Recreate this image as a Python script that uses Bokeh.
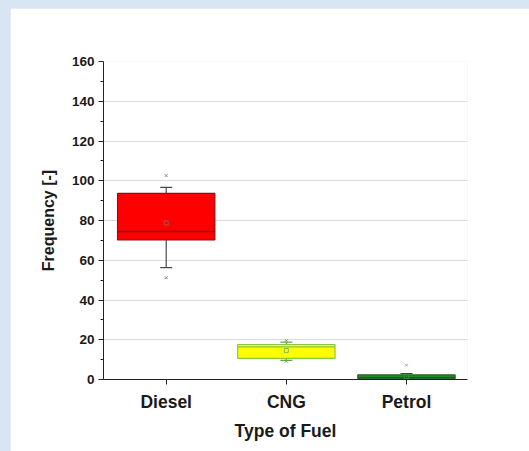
from bokeh.plotting import figure
from bokeh.layouts import column
from bokeh.models import Range1d, FixedTicker
from bokeh.embed import file_html
from bokeh.resources import INLINE

# ---- data ----
categories = ["Diesel", "CNG", "Petrol"]
q1 = [70.2, 10.6, 0.5]
q3 = [93.6, 17.6, 2.3]
medians = [74.5, 16.4, 1.0]
means = [78.8, 14.6, 1.5]
whisker_low = [56.3, 9.6, 0.2]
whisker_high = [96.7, 18.8, 3.0]
outlier_cat = ["Diesel", "Diesel", "CNG", "CNG", "Petrol"]
outlier_val = [102.6, 51.2, 19.6, 9.2, 7.2]
y_ticks = [0, 20, 40, 60, 80, 100, 120, 140, 160]
y_minor = [10, 30, 50, 70, 90, 110, 130, 150]

# ---- styles ----
fills = ["#ff0000", "#ffff00", "#2b8f2b"]
edges = ["#8b1010", "#8cc63f", "#1c661c"]
wcols = ["#4a4a4a", "#5faa48", "#1c661c"]
mean_cols = ["#b05050", "#7fbf5f", "#3a8a3a"]
out_cols = {"Diesel": "#8a8a8a", "CNG": "#5faa48", "Petrol": "#8ab88a"}
FONT = "Liberation Sans"
TXT = "#1a1a1a"

xs = [i + 1 for i in range(len(categories))]
pos = {c: i + 1 for i, c in enumerate(categories)}
bw = 0.81
cw = 0.1

fig = figure(width=519, height=443, output_backend="svg", toolbar_location=None,
             x_range=Range1d(0.478, 3.508), y_range=Range1d(0, 160),
             min_border_left=93, min_border_right=62, min_border_top=53,
             min_border_bottom=72, margin=(8, 0, 0, 10))
fig.outline_line_color = None
fig.background_fill_color = "white"
fig.border_fill_color = "white"

# whiskers
fig.segment(x0=xs, x1=xs, y0=whisker_low, y1=q1, line_color=wcols, line_width=1.2)
fig.segment(x0=xs, x1=xs, y0=q3, y1=whisker_high, line_color=wcols, line_width=1.2)
fig.segment(x0=[x - cw / 2 for x in xs], x1=[x + cw / 2 for x in xs],
            y0=whisker_low, y1=whisker_low, line_color=wcols, line_width=1.2)
fig.segment(x0=[x - cw / 2 for x in xs], x1=[x + cw / 2 for x in xs],
            y0=whisker_high, y1=whisker_high, line_color=wcols, line_width=1.2)

# boxes
fig.vbar(x=xs, width=bw, bottom=q1, top=q3, fill_color=fills, line_color=edges, line_width=1.2)
# medians
fig.segment(x0=[x - bw / 2 for x in xs], x1=[x + bw / 2 for x in xs],
            y0=medians, y1=medians, line_color=edges, line_width=1.4)
# means
fig.scatter(x=xs, y=means, marker="square", size=4, fill_color=None,
            line_color=mean_cols, line_width=1)
# outliers
fig.scatter(x=[pos[c] for c in outlier_cat], y=outlier_val, marker="x", size=4,
            line_color=[out_cols[c] for c in outlier_cat], line_width=1)

# grid
fig.xgrid.visible = False
fig.ygrid.ticker = FixedTicker(ticks=y_ticks[1:-1])
fig.ygrid.grid_line_color = "#dcdcdc"
fig.ygrid.grid_line_width = 1

# axes
ya = fig.yaxis[0]
ya.ticker = FixedTicker(ticks=y_ticks, minor_ticks=y_minor)
ya.axis_label = "Frequency [-]"
ya.major_tick_out = 5
ya.major_tick_in = 0
ya.minor_tick_out = 3
ya.minor_tick_in = 0
ya.major_label_standoff = 4
ya.axis_label_standoff = 12
ya.major_label_text_font_size = "13.5px"
ya.axis_label_text_font_size = "16px"

xa = fig.xaxis[0]
xa.ticker = FixedTicker(ticks=xs)
xa.major_label_overrides = {x: c for x, c in zip(xs, categories)}
xa.axis_label = "Type of Fuel"
xa.major_tick_out = 5
xa.major_tick_in = 0
xa.minor_tick_out = 0
xa.minor_tick_in = 0
xa.major_label_standoff = 7
xa.axis_label_standoff = 6
xa.major_label_text_font_size = "17.5px"
xa.axis_label_text_font_size = "17.5px"

for ax in (xa, ya):
    ax.axis_line_color = "#222222"
    ax.major_tick_line_color = "#222222"
    ax.minor_tick_line_color = "#222222"
    ax.major_label_text_font = FONT
    ax.major_label_text_font_style = "bold"
    ax.major_label_text_color = TXT
    ax.axis_label_text_font = FONT
    ax.axis_label_text_font_style = "bold"
    ax.axis_label_text_color = TXT

p = column(fig, styles={"background-color": "#d8e5f2"})

open("out.html", "w").write(file_html(p, INLINE))
